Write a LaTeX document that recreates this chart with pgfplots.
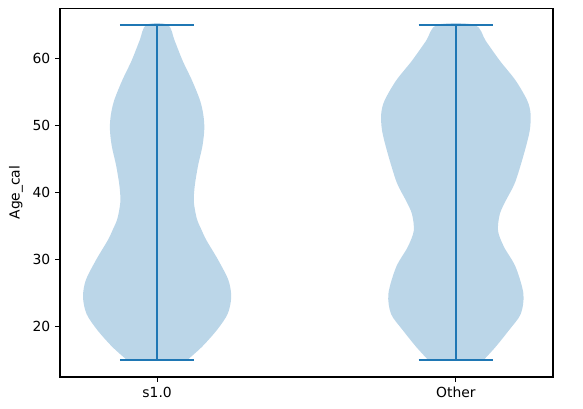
\documentclass[border=0pt]{standalone}
\usepackage{fontspec}
\setmainfont{DejaVu Sans}
\usepackage{pgfplots}
\pgfplotsset{compat=1.18}
\usepackage{pgfplotstable}

\definecolor{mplblue}{HTML}{1F77B4}

% violin outlines: y value, half width, side (+1 right going up, -1 left going down)
\pgfplotstableread{
y w s
15.0 0.100 1
17.0 0.150 1
19.5 0.200 1
21.9 0.236 1
24.4 0.248 1
26.9 0.239 1
29.9 0.205 1
32.9 0.165 1
34.5 0.148 1
36.1 0.133 1
38.6 0.123 1
41.0 0.126 1
44.0 0.137 1
47.0 0.152 1
49.5 0.158 1
51.5 0.155 1
53.7 0.144 1
56.7 0.117 1
59.6 0.086 1
62.6 0.059 1
65.0 0.036 1
65.0 0.036 -1
62.6 0.059 -1
59.6 0.086 -1
56.7 0.117 -1
53.7 0.144 -1
51.5 0.155 -1
49.5 0.158 -1
47.0 0.152 -1
44.0 0.137 -1
41.0 0.126 -1
38.6 0.123 -1
36.1 0.133 -1
34.5 0.148 -1
32.9 0.165 -1
29.9 0.205 -1
26.9 0.239 -1
24.4 0.248 -1
21.9 0.236 -1
19.5 0.200 -1
17.0 0.150 -1
15.0 0.100 -1
}\violinA

\pgfplotstableread{
y w s
15.0 0.092 1
17.0 0.133 1
19.5 0.178 1
21.9 0.217 1
24.9 0.226 1
28.9 0.200 1
31.9 0.161 1
34.3 0.141 1
36.8 0.147 1
38.8 0.167 1
41.5 0.198 1
45.8 0.228 1
49.2 0.247 1
51.7 0.250 1
53.7 0.239 1
56.7 0.200 1
59.6 0.148 1
62.6 0.100 1
65.0 0.063 1
65.0 0.063 -1
62.6 0.100 -1
59.6 0.148 -1
56.7 0.200 -1
53.7 0.239 -1
51.7 0.250 -1
49.2 0.247 -1
45.8 0.228 -1
41.5 0.198 -1
38.8 0.167 -1
36.8 0.147 -1
34.3 0.141 -1
31.9 0.161 -1
28.9 0.200 -1
24.9 0.226 -1
21.9 0.217 -1
19.5 0.178 -1
17.0 0.133 -1
15.0 0.092 -1
}\violinB

\begin{document}
\begin{tikzpicture}
\path[use as bounding box] (-43.2pt,-23.0pt) rectangle (376.6pt,271.5pt);
\begin{axis}[
    scale only axis,
    width=355pt, height=265.7pt,
    xmin=0.675, xmax=2.325,
    ymin=12.5, ymax=67.5,
    xtick={1,2}, xticklabels={s1.0, Other},
    ytick={20,30,40,50,60},
    ylabel={Age\_cal},
    tick align=outside, xtick pos=bottom, ytick pos=left,
    major tick length=3.5pt,
    every tick/.style={black, line width=0.8pt},
    axis line style={line width=0.8pt},
    tick label style={font=\fontsize{10}{12}\selectfont},
    label style={font=\fontsize{10}{12}\selectfont},
    /pgf/number format/assume math mode=true,
]
\addplot[fill=mplblue, fill opacity=0.3, draw=none, smooth, tension=0.5]
    table[x expr=1+\thisrow{s}*\thisrow{w}, y=y] {\violinA};
\addplot[fill=mplblue, fill opacity=0.3, draw=none, smooth, tension=0.5]
    table[x expr=2+\thisrow{s}*\thisrow{w}, y=y] {\violinB};

% extrema lines and caps
\addplot[mplblue, line width=1.5pt] coordinates {(1,15) (1,65)};
\addplot[mplblue, line width=1.5pt] coordinates {(0.875,65) (1.125,65)};
\addplot[mplblue, line width=1.5pt] coordinates {(0.875,15) (1.125,15)};
\addplot[mplblue, line width=1.5pt] coordinates {(2,15) (2,65)};
\addplot[mplblue, line width=1.5pt] coordinates {(1.875,65) (2.125,65)};
\addplot[mplblue, line width=1.5pt] coordinates {(1.875,15) (2.125,15)};
\end{axis}
\end{tikzpicture}
\end{document}
